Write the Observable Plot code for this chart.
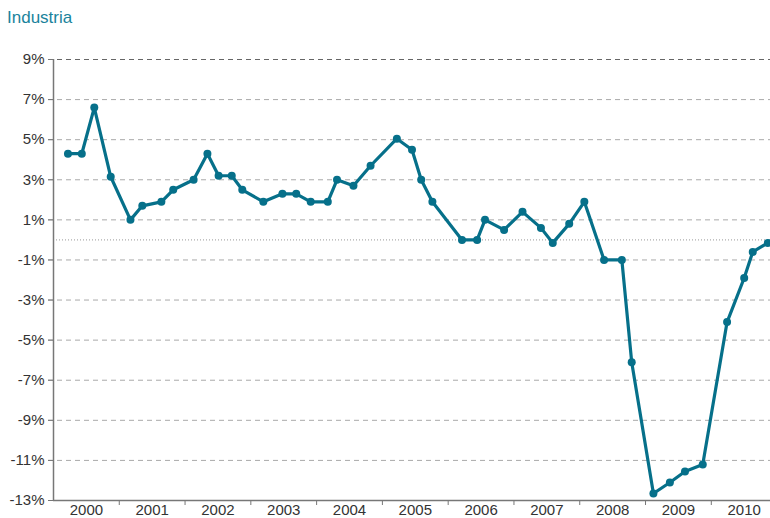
<!DOCTYPE html>
<html>
<head>
<meta charset="utf-8">
<script src="https://cdn.jsdelivr.net/npm/d3@7"></script>
<script src="https://cdn.jsdelivr.net/npm/@observablehq/plot@0.6"></script>
<style>
  html, body { margin: 0; padding: 0; background: #fff; overflow: hidden; }
  #title { font-family: "Liberation Sans", Arial, sans-serif; font-size: 17px; color: #1a839c; height: 36px; line-height: 36px; padding-left: 7px; box-sizing: border-box; }
  #chart svg { display: block; }
</style>
</head>
<body>
<div id="title">Industria</div>
<div id="chart"></div>
<script>
// Observation times (decimal years) and values (%)
const times = [2000.22, 2000.43, 2000.62, 2000.87, 2001.17, 2001.35, 2001.64, 2001.82,
  2002.13, 2002.34, 2002.51, 2002.71, 2002.87, 2003.19, 2003.48, 2003.69, 2003.91,
  2004.17, 2004.31, 2004.56, 2004.82, 2005.22, 2005.45, 2005.59, 2005.76,
  2006.21, 2006.44, 2006.56, 2006.85, 2007.13, 2007.41, 2007.59, 2007.84,
  2008.07, 2008.37, 2008.64, 2008.79, 2009.12, 2009.37, 2009.60, 2009.87,
  2010.24, 2010.50, 2010.63, 2010.86];
const values = [4.3, 4.3, 6.6, 3.15, 1.0, 1.7, 1.9, 2.5,
  3.0, 4.3, 3.2, 3.2, 2.5, 1.9, 2.3, 2.3, 1.9,
  1.9, 3.0, 2.7, 3.7, 5.05, 4.5, 3.0, 1.9,
  0.0, 0.0, 1.0, 0.5, 1.4, 0.6, -0.15, 0.8,
  1.9, -1.0, -1.0, -6.1, -12.65, -12.1, -11.55, -11.2,
  -4.1, -1.9, -0.6, -0.15];
const yTicks = [-13, -11, -9, -7, -5, -3, -1, 1, 3, 5, 7, 9];
const yearLabels = [2000, 2001, 2002, 2003, 2004, 2005, 2006, 2007, 2008, 2009, 2010];
const yearBounds = [2001, 2002, 2003, 2004, 2005, 2006, 2007, 2008, 2009, 2010];

const data = times.map((t, i) => ({t, v: values[i]}));
const lineColor = "#06708a";

const chart = Plot.plot({
  width: 770,
  height: 482,
  marginLeft: 53,
  marginRight: 0,
  marginTop: 23,
  marginBottom: 18,
  style: {fontFamily: "'Liberation Sans', Arial, sans-serif", fontSize: "15px", color: "#333", overflow: "visible"},
  x: {domain: [2000, 2010.9], axis: null, label: null},
  y: {domain: [-13, 9], axis: null, label: null},
  marks: [
    Plot.ruleY(yTicks.filter(d => d !== 9 && d !== -13), {stroke: "#aaa", strokeDasharray: "5,4", strokeWidth: 1, insetLeft: -5}),
    Plot.ruleY([9], {stroke: "#666", strokeDasharray: "5,4", strokeWidth: 1, insetLeft: -5}),
    Plot.ruleY([0], {stroke: "#999", strokeDasharray: "1,2", strokeWidth: 1}),
    Plot.axisY({ticks: yTicks, tickFormat: d => d + "%", tickSize: 5, tickPadding: 4, stroke: "#777", fill: "#333", fontSize: 15, label: null}),
    Plot.axisX({ticks: yearBounds, tickFormat: () => "", tickSize: 5, stroke: "#777", label: null}),
    Plot.axisX({ticks: yearLabels.map(d => d + 0.5), tickFormat: d => String(Math.floor(d)), tickSize: 0, tickPadding: 4, fill: "#333", fontSize: 15, label: null}),
    Plot.ruleX([2000], {stroke: "#777", strokeWidth: 1.5}),
    Plot.ruleY([-13], {stroke: "#777", strokeWidth: 1.5}),
    Plot.line(data, {x: "t", y: "v", stroke: lineColor, strokeWidth: 3.2, strokeLinejoin: "round"}),
    Plot.dot(data, {x: "t", y: "v", fill: lineColor, r: 4, stroke: "none"})
  ]
});
document.getElementById("chart").appendChild(chart);
</script>
</body>
</html>
